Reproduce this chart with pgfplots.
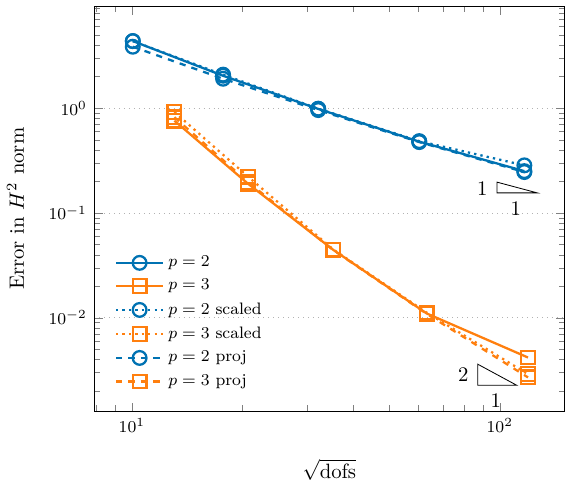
\documentclass[border=0pt]{standalone}
\usepackage{pgfplots}
\pgfplotsset{compat=1.18}
\definecolor{cblue}{RGB}{0,114,178}
\definecolor{corange}{RGB}{255,127,14}
\begin{document}
\begin{tikzpicture}
\begin{axis}[
  xmode=log, ymode=log,
  scale only axis,
  width=227pt, height=195.5pt,
  xmin=7.9, xmax=150,
  ymin=1.28e-3, ymax=9.4,
  ymajorgrids,
  major grid style={dotted, gray!60},
  tick label style={font=\footnotesize},
  xlabel={$\sqrt{\mathrm{dofs}}$},
  ylabel={Error in $H^2$ norm},
  xlabel style={yshift=-6pt},
  ylabel style={yshift=5pt},
  legend style={draw=none, fill=none, at={(0.03,0.035)}, anchor=south west, font=\footnotesize,
    row sep=0.6pt},
  legend image code/.code={%
    \draw[mark repeat=2,mark phase=2] plot coordinates {(0cm,0cm) (0.4cm,0cm) (0.8cm,0cm)};},
  legend cell align=left,
  every axis plot/.append style={line width=1.1pt, mark size=3.3pt},
]
\addplot[cblue, solid, mark=o] coordinates {(10.06,4.37) (17.7,2.04) (32.1,0.985) (60.4,0.48) (116.6,0.251)};
\addlegendentry{$p=2$}
\addplot[corange, solid, mark=square] coordinates {(13.05,0.76) (20.7,0.19) (35.3,0.0444) (63.3,0.011) (119.3,0.00418)};
\addlegendentry{$p=3$}
\addplot[cblue, dotted, mark=o, mark options={solid}] coordinates {(10.06,4.37) (17.7,2.09) (32.1,0.99) (60.4,0.485) (116.6,0.285)};
\addlegendentry{$p=2$ scaled}
\addplot[corange, dotted, mark=square, mark options={solid}] coordinates {(13.05,0.92) (20.7,0.222) (35.3,0.0448) (63.3,0.0112) (119.3,0.0029)};
\addlegendentry{$p=3$ scaled}
\addplot[cblue, dashed, mark=o, mark options={solid}] coordinates {(10.06,3.86) (17.7,1.91) (32.1,0.96) (60.4,0.475) (116.6,0.246)};
\addlegendentry{$p=2$ proj}
\addplot[corange, dashed, mark=square, mark options={solid}] coordinates {(13.05,0.82) (20.7,0.197) (35.3,0.0442) (63.3,0.0109) (119.3,0.0027)};
\addlegendentry{$p=3$ proj}
\draw[black, line width=0.4pt] (axis cs:98.3,0.197) -- (axis cs:98.3,0.1556) -- (axis cs:126.4,0.1556) -- cycle;
\node[anchor=east] at (axis cs:97,0.172) {1};
\node[anchor=north] at (axis cs:110.5,0.15) {1};
\draw[black, line width=0.4pt] (axis cs:87.1,0.00361) -- (axis cs:87.1,0.00227) -- (axis cs:111.2,0.00227) -- cycle;
\node[anchor=east] at (axis cs:86,0.00286) {2};
\node[anchor=north] at (axis cs:97.5,0.0022) {1};
\end{axis}
\path ([yshift=3pt]current axis.north);
\end{tikzpicture}
\end{document}
